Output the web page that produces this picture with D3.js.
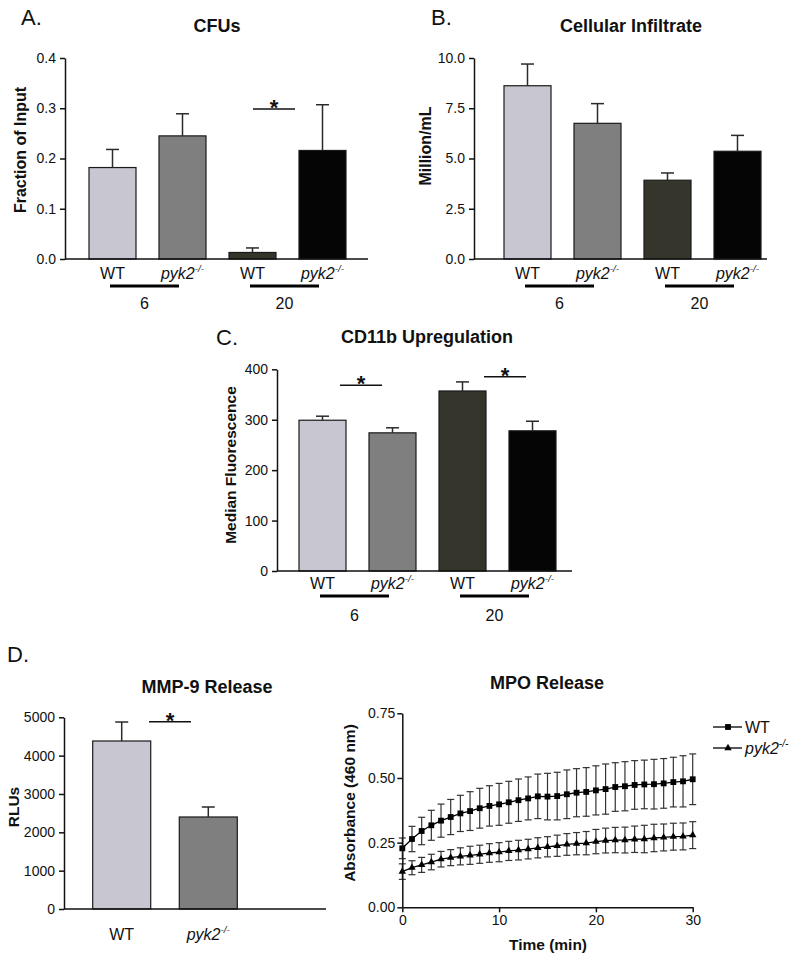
<!DOCTYPE html>
<html><head><meta charset="utf-8">
<script src="https://cdn.jsdelivr.net/npm/d3@7"></script>
<style>
html,body{margin:0;padding:0;background:#fff;}
svg{display:block;font-family:"Liberation Sans",Arial,sans-serif;}
</style></head>
<body>
<svg id="chart" width="800" height="962"></svg>
<script>
// ---------- DATA ----------
const barCategories = ["WT 6", "pyk2 6", "WT 20", "pyk2 20"];
const genotypeLabels = ["WT", "pyk2", "WT", "pyk2"];
const timeGroups = ["6", "20"];
const barColors = ["#c7c6d1", "#7f7f7f", "#35352b", "#050505"];

const cfuMean = [0.182, 0.245, 0.013, 0.216];
const cfuErr  = [0.036, 0.044, 0.009, 0.091];
const cfuTicks = [0, 0.1, 0.2, 0.3, 0.4];

const infMean = [8.62, 6.75, 3.92, 5.36];
const infErr  = [1.08, 0.98, 0.36, 0.79];
const infTicks = [0, 2.5, 5.0, 7.5, 10.0];

const cd11Mean = [299, 274, 357, 278];
const cd11Err  = [8, 10, 18, 19];
const cd11Ticks = [0, 100, 200, 300, 400];

const mmpCategories = ["WT", "pyk2"];
const mmpMean = [4382, 2400];
const mmpErr  = [495, 260];
const mmpTicks = [0, 1000, 2000, 3000, 4000, 5000];

const mpoTime = [0,1,2,3,4,5,6,7,8,9,10,11,12,13,14,15,16,17,18,19,20,21,22,23,24,25,26,27,28,29,30];
const mpoWT = [0.228,0.264,0.295,0.317,0.335,0.349,0.363,0.372,0.383,0.392,0.398,0.406,0.414,0.421,0.429,0.428,0.430,0.437,0.443,0.446,0.452,0.457,0.465,0.468,0.473,0.475,0.476,0.479,0.484,0.487,0.495];
const mpoWTErr = [0.040,0.049,0.053,0.058,0.064,0.068,0.070,0.075,0.077,0.078,0.081,0.081,0.082,0.083,0.086,0.090,0.092,0.094,0.093,0.094,0.095,0.097,0.094,0.095,0.094,0.094,0.096,0.096,0.096,0.099,0.098];
const mpoKO = [0.138,0.153,0.164,0.175,0.186,0.192,0.197,0.201,0.205,0.210,0.213,0.218,0.221,0.225,0.230,0.234,0.238,0.243,0.246,0.248,0.254,0.258,0.260,0.260,0.263,0.264,0.268,0.270,0.273,0.274,0.279];
const mpoKOErr = [0.030,0.027,0.029,0.030,0.030,0.031,0.033,0.035,0.035,0.036,0.037,0.037,0.038,0.038,0.039,0.039,0.041,0.042,0.043,0.045,0.047,0.048,0.049,0.050,0.051,0.053,0.053,0.052,0.052,0.052,0.052];
const mpoYTicks = [0, 0.25, 0.5, 0.75];
const mpoXTicks = [0, 10, 20, 30];

// ---------- DRAWING ----------
const svg = d3.select("#chart");
const INK = "#111";

function label(g, x, y, text, opts = {}) {
  const t = g.append("text").attr("x", x).attr("y", y)
    .attr("text-anchor", opts.anchor || "middle")
    .attr("font-size", opts.size || 16)
    .attr("font-weight", opts.weight || "normal")
    .attr("fill", INK);
  if (opts.rotate) t.attr("transform", `rotate(-90,${x},${y})`);
  t.text(text);
  return t;
}

function genoLabel(g, x, y, name, size) {
  const t = g.append("text").attr("x", x).attr("y", y)
    .attr("text-anchor", "middle").attr("font-size", size).attr("fill", INK);
  if (name === "WT") { t.text("WT"); }
  else {
    t.append("tspan").attr("font-style", "italic").text("pyk2");
    t.append("tspan").attr("font-style", "italic").attr("font-size", size * 0.62)
      .attr("dy", -size * 0.45).text("-/-");
  }
  return t;
}

function styleAxis(ax) {
  ax.select(".domain").attr("stroke", INK).attr("stroke-width", 1.5);
  ax.selectAll(".tick line").attr("stroke", INK).attr("stroke-width", 1.5);
  ax.selectAll(".tick text").attr("fill", INK).attr("font-size", 14)
    .attr("font-family", '"Liberation Sans",Arial,sans-serif');
}

function barPanel(cfg) {
  const g = svg.append("g");
  const y = d3.scaleLinear().domain(cfg.yDomain).range([cfg.y0, cfg.y1]);
  const x = d3.scaleBand().domain(cfg.cats).range(cfg.xRange).paddingInner(cfg.padInner);
  g.selectAll("rect.bar").data(cfg.mean).join("rect")
    .attr("x", (d, i) => x(cfg.cats[i]))
    .attr("y", d => y(d))
    .attr("width", x.bandwidth())
    .attr("height", d => y(0) - y(d))
    .attr("fill", (d, i) => cfg.colors[i])
    .attr("stroke", "#1a1a1a").attr("stroke-width", 1.2);
  const cap = 6.5;
  cfg.mean.forEach((m, i) => {
    const cx = x(cfg.cats[i]) + x.bandwidth() / 2;
    g.append("line").attr("x1", cx).attr("x2", cx)
      .attr("y1", y(m)).attr("y2", y(m + cfg.err[i]))
      .attr("stroke", "#2a2a2a").attr("stroke-width", 1.5);
    g.append("line").attr("x1", cx - cap).attr("x2", cx + cap)
      .attr("y1", y(m + cfg.err[i])).attr("y2", y(m + cfg.err[i]))
      .attr("stroke", "#2a2a2a").attr("stroke-width", 1.5);
  });
  const ax = g.append("g").attr("transform", `translate(${cfg.axisX},0)`)
    .call(d3.axisLeft(y).tickValues(cfg.ticks).tickFormat(cfg.fmt).tickSize(5).tickSizeOuter(0).tickPadding(4));
  styleAxis(ax);
  g.append("line").attr("x1", cfg.axisX).attr("x2", cfg.xEnd)
    .attr("y1", y(0)).attr("y2", y(0)).attr("stroke", INK).attr("stroke-width", 1.5);
  cfg.cats.forEach((c, i) => {
    genoLabel(g, x(c) + x.bandwidth() / 2, cfg.xLabelY, cfg.genos[i], 16);
  });
  if (cfg.groups) {
    cfg.groups.forEach((grp, k) => {
      const c1 = x(cfg.cats[2 * k]) + x.bandwidth() / 2;
      const c2 = x(cfg.cats[2 * k + 1]) + x.bandwidth() / 2;
      g.append("line").attr("x1", c1 - 2.5).attr("x2", c2 - 3.5)
        .attr("y1", cfg.underY).attr("y2", cfg.underY)
        .attr("stroke", "#000").attr("stroke-width", 3);
      label(g, (c1 + c2) / 2 - 3, cfg.groupY, grp, { size: 16 });
    });
  }
  (cfg.sig || []).forEach(s => {
    g.append("line").attr("x1", s.x1).attr("x2", s.x2).attr("y1", s.y).attr("y2", s.y)
      .attr("stroke", INK).attr("stroke-width", 1.5);
    label(g, (s.x1 + s.x2) / 2, s.y + 6, "*", { size: 22, weight: "bold" });
  });
  label(g, cfg.titleX, cfg.titleY, cfg.title, { size: 18, weight: "bold" });
  label(g, cfg.letterX, cfg.letterY, cfg.letter, { size: 22, anchor: "start" });
  label(g, cfg.yTitleX, cfg.yTitleY, cfg.yTitle, { size: cfg.yTitleSize || 15.5, weight: "bold", rotate: true });
  return g;
}

barPanel({
  cats: barCategories, genos: genotypeLabels, groups: timeGroups, colors: barColors,
  mean: cfuMean, err: cfuErr, ticks: cfuTicks, fmt: d3.format(".1f"),
  yDomain: [0, 0.4], y0: 259, y1: 58, xRange: [89, 346], padInner: 0.3286,
  axisX: 65, xEnd: 368, xLabelY: 279, underY: 286, groupY: 309,
  sig: [{ x1: 253, x2: 295, y: 109 }],
  title: "CFUs", titleX: 217, titleY: 32, letter: "A.", letterX: 21, letterY: 25,
  yTitle: "Fraction of Input", yTitleX: 26, yTitleY: 150, yTitleSize: 16
});

barPanel({
  cats: barCategories, genos: genotypeLabels, groups: timeGroups, colors: barColors,
  mean: infMean, err: infErr, ticks: infTicks, fmt: d3.format(".1f"),
  yDomain: [0, 10], y0: 259, y1: 58, xRange: [504, 761], padInner: 0.3286,
  axisX: 474, xEnd: 767, xLabelY: 279, underY: 286, groupY: 309,
  sig: [],
  title: "Cellular Infiltrate", titleX: 631, titleY: 32, letter: "B.", letterX: 431, letterY: 25,
  yTitle: "Million/mL", yTitleX: 431, yTitleY: 146, yTitleSize: 16
});

barPanel({
  cats: barCategories, genos: genotypeLabels, groups: timeGroups, colors: barColors,
  mean: cd11Mean, err: cd11Err, ticks: cd11Ticks, fmt: d3.format("d"),
  yDomain: [0, 400], y0: 571, y1: 369.3, xRange: [299, 556], padInner: 0.3286,
  axisX: 277, xEnd: 572, xLabelY: 589, underY: 596, groupY: 621,
  sig: [{ x1: 340, x2: 382, y: 385.3 }, { x1: 484, x2: 526, y: 376.7 }],
  title: "CD11b Upregulation", titleX: 427, titleY: 343, letter: "C.", letterX: 216, letterY: 345,
  yTitle: "Median Fluorescence", yTitleX: 236, yTitleY: 465
});

barPanel({
  cats: mmpCategories, genos: mmpCategories, groups: null, colors: barColors,
  mean: mmpMean, err: mmpErr, ticks: mmpTicks, fmt: d3.format("d"),
  yDomain: [0, 5000], y0: 909, y1: 717.3, xRange: [92.7, 237.3], padInner: 0.33,
  axisX: 64, xEnd: 326, xLabelY: 940,
  sig: [{ x1: 149, x2: 191, y: 721.7 }],
  title: "MMP-9 Release", titleX: 207, titleY: 693, letter: "D.", letterX: 7, letterY: 662,
  yTitle: "RLUs", yTitleX: 19, yTitleY: 807
});

(function () {
  const g = svg.append("g");
  const x = d3.scaleLinear().domain([0, 30]).range([402.3, 692.7]);
  const y = d3.scaleLinear().domain([0, 0.75]).range([907.3, 713.3]);
  const series = [
    { name: "WT", mean: mpoWT, err: mpoWTErr, marker: "square" },
    { name: "pyk2", mean: mpoKO, err: mpoKOErr, marker: "triangle" }
  ];
  const line = d3.line().x((d, i) => x(mpoTime[i])).y(d => y(d));
  const cap = 3.5;
  series.forEach(s => {
    s.mean.forEach((m, i) => {
      const cx = x(mpoTime[i]);
      const lo = y(m - s.err[i]), hi = y(m + s.err[i]);
      g.append("line").attr("x1", cx).attr("x2", cx).attr("y1", lo).attr("y2", hi)
        .attr("stroke", "#333").attr("stroke-width", 1.2);
      [lo, hi].forEach(yy => g.append("line").attr("x1", cx - cap).attr("x2", cx + cap)
        .attr("y1", yy).attr("y2", yy).attr("stroke", "#333").attr("stroke-width", 1.2));
    });
    g.append("path").datum(s.mean).attr("d", line).attr("fill", "none")
      .attr("stroke", "#000").attr("stroke-width", 1.3);
    const sym = d3.symbol().type(s.marker === "square" ? d3.symbolSquare : d3.symbolTriangle)
      .size(s.marker === "square" ? 34 : 24);
    g.selectAll(null).data(s.mean).join("path")
      .attr("transform", (d, i) => `translate(${x(mpoTime[i])},${y(d)})`)
      .attr("d", sym).attr("fill", "#000");
  });
  const ay = g.append("g").attr("transform", `translate(${x(0)},0)`)
    .call(d3.axisLeft(y).tickValues(mpoYTicks).tickFormat(d3.format(".2f")).tickSize(5).tickSizeOuter(0).tickPadding(2));
  styleAxis(ay);
  const ax = g.append("g").attr("transform", `translate(0,${y(0)})`)
    .call(d3.axisBottom(x).tickValues(mpoXTicks).tickFormat(d3.format("d")).tickSize(5).tickSizeOuter(0).tickPadding(3));
  styleAxis(ax);
  label(g, 547, 689, "MPO Release", { size: 18, weight: "bold" });
  label(g, 548, 950, "Time (min)", { size: 15.5, weight: "bold" });
  label(g, 355, 803, "Absorbance (460 nm)", { size: 15.5, weight: "bold", rotate: true });
  const legY = [727, 748];
  series.forEach((s, k) => {
    g.append("line").attr("x1", 713).attr("x2", 742).attr("y1", legY[k]).attr("y2", legY[k])
      .attr("stroke", "#000").attr("stroke-width", 1.3);
    const sym = d3.symbol().type(s.marker === "square" ? d3.symbolSquare : d3.symbolTriangle)
      .size(s.marker === "square" ? 34 : 24);
    g.append("path").attr("transform", `translate(728,${legY[k]})`).attr("d", sym).attr("fill", "#000");
    const t = g.append("text").attr("x", 745).attr("y", legY[k] + 6).attr("font-size", 16).attr("fill", INK);
    if (s.name === "WT") t.text("WT");
    else {
      t.append("tspan").attr("font-style", "italic").text("pyk2");
      t.append("tspan").attr("font-style", "italic").attr("font-size", 10).attr("dy", -7).text("-/-");
    }
  });
})();
</script>
</body></html>
